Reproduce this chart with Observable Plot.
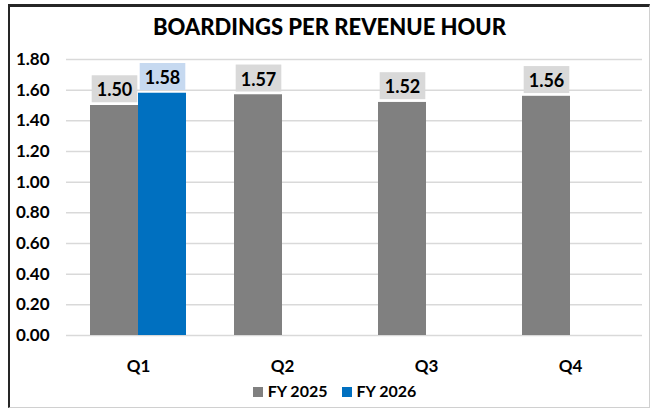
<!DOCTYPE html>
<html><head><meta charset="utf-8">
<script src="https://cdn.jsdelivr.net/npm/d3@7"></script>
<script src="https://cdn.jsdelivr.net/npm/@observablehq/plot@0.6"></script>
<style>
body{margin:0;background:#fff;font-family:Lato,"Open Sans",sans-serif;}
#box{position:relative;margin-left:8px;margin-top:4px;width:639px;height:400px;border-top:3px solid #262626;border-left:2px solid #262626;border-right:1px solid #d0d0d0;border-bottom:1px solid #d0d0d0;}
#title{height:40px;line-height:40px;text-align:center;font-weight:900;font-size:22px;color:#000;}
#legend{display:flex;justify-content:center;align-items:center;gap:14px;font-weight:bold;font-size:16px;height:24px;margin-left:10px;}
#legend span.sw{display:inline-block;width:10px;height:10px;margin-right:5px;vertical-align:middle;}
</style></head>
<body><div id="box"><div id="title">BOARDINGS PER REVENUE HOUR</div><div id="chart"></div><div id="legend"></div></div>
<script>
const quarters = ["Q1","Q2","Q3","Q4"];
const series = ["FY 2025","FY 2026"];
const fy2025 = [1.50, 1.57, 1.52, 1.56];
const fy2026 = [1.58, null, null, null];
const yTicks = [0,0.2,0.4,0.6,0.8,1.0,1.2,1.4,1.6,1.8];
const colors = ["#808080","#0070c0"];
const labelBg = ["#d9d9d9","#c6d9f0"];

const data = [];
quarters.forEach((q,i)=>{
  if (fy2025[i]!=null) data.push({q, s:series[0], v:fy2025[i]});
  if (fy2026[i]!=null) data.push({q, s:series[1], v:fy2026[i]});
});

const plot = Plot.plot({
  width: 639, height: 331,
  marginLeft: 56, marginRight: 7, marginTop: 12, marginBottom: 43,
  style:{fontFamily:"Lato, 'Open Sans', sans-serif", fontWeight:"bold", fontSize:"17px", color:"#000"},
  fx:{domain:quarters, padding:0, label:null, axis:"bottom", tickSize:0, tickPadding:24},
  x:{domain:series, paddingInner:0, paddingOuter:0.485, axis:null},
  y:{domain:[0,1.8], ticks:yTicks, tickFormat:d3.format(".2f"), label:null, tickSize:0, tickPadding:17},
  color:{domain:series, range:colors},
  marks:[
    Plot.ruleY(yTicks, {stroke:"#d9d9d9", strokeWidth:1.5}),
    Plot.barY(data, {fx:"q", x:"s", y:"v", fill:"s"}),
    Plot.text(data, {fx:"q", x:"s", y:"v", text:d=>d3.format(".2f")(d.v), dy:-15, fontSize:18, fontWeight:"bold", fill:"#000", className:"vlab"})
  ]
});
document.getElementById("chart").appendChild(plot);

// background boxes behind value labels
plot.querySelectorAll("g.vlab").forEach(g=>{
  g.querySelectorAll("text").forEach(t=>{
    const d = data[+t.__data__] || null;
    const b = t.getBBox();
    const r = document.createElementNS("http://www.w3.org/2000/svg","rect");
    r.setAttribute("x", b.x-5); r.setAttribute("y", b.y-3);
    r.setAttribute("width", b.width+10); r.setAttribute("height", b.height+5);
    r.setAttribute("fill", d && d.s===series[1] ? labelBg[1] : labelBg[0]);
    if (t.getAttribute("transform")) r.setAttribute("transform", t.getAttribute("transform"));
    t.parentNode.insertBefore(r, t);
  });
});

const lg = document.getElementById("legend");
series.forEach((s,i)=>{
  const d = document.createElement("div");
  d.innerHTML = `<span class="sw" style="background:${colors[i]}"></span>${s}`;
  lg.appendChild(d);
});
</script></body></html>
